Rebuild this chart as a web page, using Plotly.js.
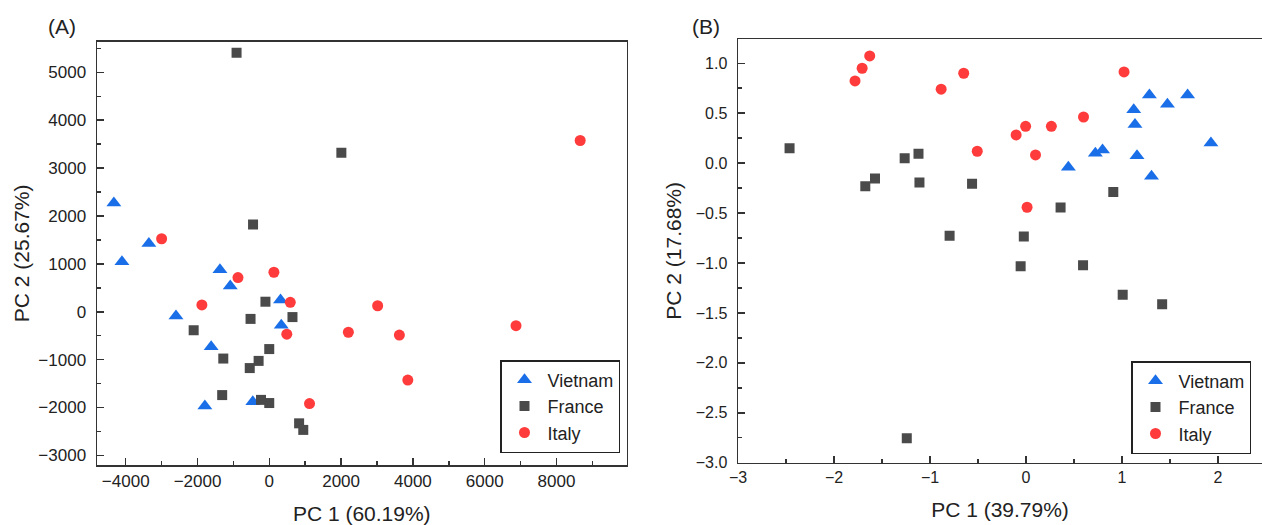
<!DOCTYPE html>
<html>
<head>
<meta charset="utf-8">
<script src="https://cdn.plot.ly/plotly-3.0.1.min.js"></script>
<style>html,body{margin:0;padding:0;background:#fff;}#chart{width:1262px;height:525px;}</style>
</head>
<body>
<div id="chart"></div>
<script>
// Panel A (PC1 60.19%, PC2 25.67%)
var aVietnamX = [-4330, -3355, -4105, -1375, -1088, -2600, 312, 333, -1620, -1795, -460];
var aVietnamY = [2270, 1425, 1045, 875, 540, -90, 245, -280, -730, -1970, -1880];
var aFranceX = [-912, 2007, -453, -108, -523, 645, -2107, -2, -1282, -298, -545, -1313, -232, -2, 830, 946];
var aFranceY = [5407, 3319, 1820, 210, -149, -111, -386, -779, -977, -1026, -1176, -1740, -1840, -1906, -2330, -2467];
var aItalyX = [8660, -3000, -873, 128, -1878, 584, 487, 3018, 2202, 3623, 6872, 3858, 1120];
var aItalyY = [3577, 1525, 714, 825, 143, 198, -469, 126, -428, -487, -291, -1426, -1917];

// Panel B (PC1 39.79%, PC2 17.68%)
var bVietnamX = [1.285, 1.683, 1.473, 1.122, 1.135, 1.926, 0.722, 0.797, 1.156, 0.441, 1.307];
var bVietnamY = [0.681, 0.681, 0.589, 0.534, 0.387, 0.201, 0.100, 0.131, 0.073, -0.042, -0.132];
var bFranceX = [-2.463, -1.264, -1.120, -1.674, -1.573, -1.110, -0.562, 0.909, 0.360, -0.796, -0.023, -0.056, 0.594, 1.007, 1.418, -1.242];
var bFranceY = [0.149, 0.048, 0.095, -0.232, -0.155, -0.194, -0.207, -0.290, -0.445, -0.728, -0.736, -1.033, -1.022, -1.319, -1.413, -2.754];
var bItalyX = [-1.628, -1.707, -1.781, -0.649, -0.884, 1.021, 0.599, -0.004, 0.264, -0.103, -0.508, 0.099, 0.011];
var bItalyY = [1.073, 0.950, 0.823, 0.900, 0.740, 0.913, 0.462, 0.369, 0.369, 0.282, 0.119, 0.082, -0.442];

var groupNames = ["Vietnam", "France", "Italy"];
var colors = ["#1a6ee8", "#4a4a4a", "#ff3b3b"];
var symbols = ["triangle-up", "square", "circle"];
var sizes = [13, 10, 11];

var dataA = [[aVietnamX, aVietnamY], [aFranceX, aFranceY], [aItalyX, aItalyY]];
var dataB = [[bVietnamX, bVietnamY], [bFranceX, bFranceY], [bItalyX, bItalyY]];

var traces = [];
dataA.forEach(function (d, i) {
  traces.push({x: d[0], y: d[1], type: "scatter", mode: "markers", name: groupNames[i],
    xaxis: "x", yaxis: "y", legend: "legend",
    marker: {symbol: symbols[i], color: colors[i], size: sizes[i], line: {width: 0}}});
});
dataB.forEach(function (d, i) {
  traces.push({x: d[0], y: d[1], type: "scatter", mode: "markers", name: groupNames[i],
    xaxis: "x2", yaxis: "y2", legend: "legend2",
    marker: {symbol: symbols[i], color: colors[i], size: sizes[i], line: {width: 0}}});
});

var FONT = "Liberation Sans, Arial, sans-serif";
var axisBase = {
  showgrid: false, zeroline: false, showline: true, linecolor: "#333", linewidth: 1.5,
  ticks: "inside", ticklen: 7, tickwidth: 1.5, tickcolor: "#333",
  tickfont: {family: FONT, size: 17, color: "#222"},
  automargin: false, fixedrange: true
};
function ax(extra) { return Object.assign({}, JSON.parse(JSON.stringify(axisBase)), extra); }

var legendBase = {bgcolor: "#fff", bordercolor: "#222", borderwidth: 1.5,
  font: {family: FONT, size: 18, color: "#222"}, tracegroupgap: 0, itemwidth: 36};

var layout = {
  width: 1262, height: 525,
  margin: {l: 0, r: 0, t: 0, b: 0},
  paper_bgcolor: "#fff", plot_bgcolor: "#fff",
  font: {family: FONT, color: "#222"},
  showlegend: true,
  xaxis: ax({domain: [97/1262, 626.5/1262], range: [-4800, 9950], anchor: "y", mirror: true,
    tickmode: "linear", tick0: 0, dtick: 2000, tickformat: "d", exponentformat: "none",
    minor: {ticks: "inside", dtick: 1000, tick0: 0, ticklen: 4, tickwidth: 1.5, tickcolor: "#333"},
    title: {text: "PC 1 (60.19%)", font: {family: FONT, size: 21, color: "#222"}, standoff: 17}}),
  yaxis: ax({domain: [(525-465)/525, (525-41.7)/525], range: [-3200, 5640], anchor: "x", mirror: true,
    tickmode: "linear", tick0: 0, dtick: 1000, tickformat: "d", exponentformat: "none",
    minor: {ticks: "inside", dtick: 500, tick0: 0, ticklen: 4, tickwidth: 1.5, tickcolor: "#333"},
    ticklabelstandoff: 6,
    title: {text: "PC 2 (25.67%)", font: {family: FONT, size: 21, color: "#222"}, standoff: 3}}),
  xaxis2: ax({domain: [738/1262, 1], range: [-3, 2.458], anchor: "y2", mirror: true,
    tickmode: "linear", tick0: 0, dtick: 1,
    tickfont: {family: FONT, size: 16, color: "#222"},
    minor: {ticks: "inside", dtick: 0.5, tick0: 0, ticklen: 4, tickwidth: 1.5, tickcolor: "#333"},
    title: {text: "PC 1 (39.79%)", font: {family: FONT, size: 21, color: "#222"}, standoff: 17}}),
  yaxis2: ax({domain: [(525-462.7)/525, (525-39)/525], range: [-3.0, 1.243], anchor: "x2", mirror: false,
    tickmode: "linear", tick0: 0, dtick: 0.5, tickformat: ".1f",
    tickfont: {family: FONT, size: 16, color: "#222"},
    minor: {ticks: "inside", dtick: 0.25, tick0: 0, ticklen: 4, tickwidth: 1.5, tickcolor: "#333"},
    ticklabelstandoff: 6,
    title: {text: "PC 2 (17.68%)", font: {family: FONT, size: 21, color: "#222"}, standoff: 8}}),
  legend: Object.assign({x: 620/1262, xanchor: "right", y: (525-453)/525, yanchor: "bottom"}, legendBase),
  legend2: Object.assign({x: 1251/1262, xanchor: "right", y: (525-454)/525, yanchor: "bottom"}, legendBase),
  annotations: [
    {text: "(A)", xref: "paper", yref: "paper", x: 46/1262, y: (525-27)/525, xanchor: "left", yanchor: "middle",
      showarrow: false, font: {family: FONT, size: 21, color: "#222"}},
    {text: "(B)", xref: "paper", yref: "paper", x: 690/1262, y: (525-27)/525, xanchor: "left", yanchor: "middle",
      showarrow: false, font: {family: FONT, size: 21, color: "#222"}}
  ]
};

Plotly.newPlot("chart", traces, layout, {displayModeBar: false, staticPlot: true});
</script>
</body>
</html>
